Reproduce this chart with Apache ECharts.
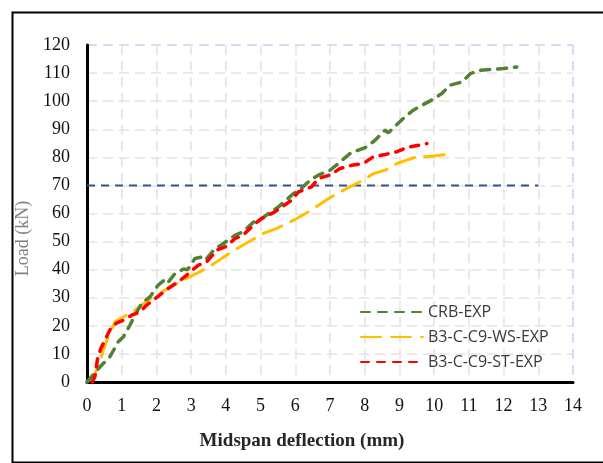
<!DOCTYPE html>
<html>
<head>
<meta charset="utf-8">
<script src="https://cdn.jsdelivr.net/npm/echarts@6/dist/echarts.min.js"></script>
<style>
  html, body { margin: 0; padding: 0; background: #fff; }
  #chart { width: 603px; height: 463px; }
</style>
</head>
<body>
<div id="chart"></div>
<script>
// load-deflection curves, [deflection mm, load kN]
const crbExp = [
  [0, 0], [0.42, 6], [0.66, 9], [0.9, 14.3], [1.05, 16.1], [1.24, 20.3], [1.38, 23.8],
  [1.58, 28], [1.82, 30.4], [2.05, 34.5], [2.2, 36], [2.3, 34.9], [2.54, 38.7], [2.78, 40.2],
  [2.9, 40], [3.11, 44], [3.35, 44.6], [3.42, 43.6], [3.69, 47.5], [3.93, 49.3], [4.27, 52.3],
  [4.5, 53.5], [4.8, 57], [5.03, 58.2], [5.37, 61.2], [5.5, 62.2], [5.95, 67.1], [6.14, 68.5],
  [6.43, 71.9], [6.67, 73.7], [7.0, 75.4], [7.24, 77.8], [7.58, 81.4], [7.82, 82.6], [8.06, 83.7],
  [8.3, 86.1], [8.59, 89.7], [8.68, 88.7], [8.83, 90.6], [9.16, 94.4], [9.4, 96.8], [9.6, 98.2],
  [9.93, 100.4], [10.22, 102.7], [10.46, 105.7], [10.8, 106.8], [11.04, 109.8], [11.33, 111],
  [11.66, 111.3], [12.0, 111.6], [12.38, 112.2]
];
const wsExp = [
  [0, 0], [0.23, 3], [0.37, 6.7], [0.47, 11.4], [0.61, 16], [0.81, 21.5], [1.1, 23.5],
  [1.38, 25.6], [1.77, 29.2], [2.1, 31.5], [2.39, 33.9], [2.68, 35.7], [3.26, 39.3],
  [3.59, 41.6], [4.17, 46.4], [4.5, 48.8], [5.08, 52.9], [5.47, 54.7], [6.04, 58.2],
  [6.38, 60.6], [6.96, 65.3], [7.29, 67.7], [7.96, 71.9], [8.25, 74.2], [8.6, 75.5],
  [8.93, 77.8], [9.21, 79], [9.45, 80], [9.93, 80.4], [10.32, 81]
];
const stExp = [
  [0.15, 0], [0.23, 2], [0.3, 8], [0.4, 12], [0.52, 15], [0.61, 17.3], [0.7, 19.5],
  [0.85, 21], [1.05, 22], [1.29, 23.8], [1.53, 25], [1.72, 27.4], [2.1, 31], [2.34, 33.3],
  [2.63, 35.7], [2.82, 37.5], [3.0, 39.5], [3.21, 41.6], [3.45, 42.8], [3.74, 47],
  [3.98, 48.1], [4.27, 51.1], [4.5, 52.3], [4.84, 56.4], [5.03, 58.2], [5.4, 60.5],
  [5.9, 64.8], [6.09, 67.7], [6.47, 69.5], [6.67, 72.5], [7.0, 73.7], [7.29, 76],
  [7.63, 77.2], [7.96, 77.8], [8.25, 80.2], [8.59, 81], [8.93, 82], [9.21, 83.5],
  [9.55, 84.3], [9.79, 84.9]
];
// horizontal reference at 70 kN
const refLine = [[0, 70], [13, 70]];
const seriesNames = ["CRB-EXP", "B3-C-C9-WS-EXP", "B3-C-C9-ST-EXP"];

const serif = "'Liberation Serif', 'DejaVu Serif', serif";
const gridColor = "#e3e3e3";
const edgeColor = "#bdd7ee";

// last split line (the frame edge) is light blue
const xSplitColors = Array(14).fill(gridColor).concat([edgeColor]);
const ySplitColors = Array(12).fill(gridColor).concat([edgeColor]);

const chart = echarts.init(document.getElementById("chart"));
chart.setOption({
  backgroundColor: "#fff",
  animation: false,
  graphic: [
    {
      type: "rect",
      left: 10, top: 10,
      shape: { width: 600, height: 450 },
      style: { fill: "none", stroke: "#000", lineWidth: 2 },
      z: -1
    }
  ],
  grid: { left: 87, right: 30, top: 45, bottom: 81 },
  legend: {
    data: seriesNames,
    orient: "vertical",
    left: 355,
    top: 299,
    itemWidth: 62,
    itemHeight: 6,
    itemGap: 9,
    itemStyle: { opacity: 0 },
    textStyle: { fontFamily: "'Open Sans', sans-serif", fontSize: 16, color: "#3a3a3a" }
  },
  xAxis: {
    type: "value",
    min: 0, max: 14, interval: 1,
    name: "Midspan deflection (mm)",
    nameLocation: "middle",
    nameGap: 50,
    nameTextStyle: { fontFamily: serif, fontSize: 19, fontWeight: "bold", color: "#262626", padding: [0, 56, 0, 0] },
    axisLine: { lineStyle: { color: "#000", width: 3 } },
    axisTick: { show: false },
    axisLabel: { fontFamily: serif, fontSize: 18, color: "#111", margin: 15 },
    splitLine: { show: true, lineStyle: { color: xSplitColors, width: 1.5, type: [10, 6] } }
  },
  yAxis: {
    type: "value",
    min: 0, max: 120, interval: 10,
    name: "Load (kN)",
    nameLocation: "middle",
    nameGap: 46,
    nameRotate: 90,
    nameTextStyle: { fontFamily: serif, fontSize: 18, color: "#808080", padding: [0, 50, 0, 0] },
    axisLine: { lineStyle: { color: "#000", width: 3 } },
    axisTick: { show: false },
    axisLabel: { fontFamily: serif, fontSize: 18, color: "#111", margin: 17 },
    splitLine: { show: true, lineStyle: { color: ySplitColors, width: 1.5, type: [10, 6] } }
  },
  series: [
    {
      name: "70 kN",
      type: "line",
      data: refLine,
      symbol: "none",
      silent: true,
      lineStyle: { color: "#2f5597", width: 2, type: [8, 6] },
      z: 1
    },
    {
      name: seriesNames[0],
      type: "line",
      data: crbExp,
      symbol: "none",
      color: "#548235",
      lineStyle: { color: "#548235", width: 3.5, type: [9, 8], cap: "round" },
      z: 3
    },
    {
      name: seriesNames[1],
      type: "line",
      data: wsExp,
      symbol: "none",
      color: "#ffc000",
      lineStyle: { color: "#ffc000", width: 3, type: [20, 10], cap: "round" },
      z: 2
    },
    {
      name: seriesNames[2],
      type: "line",
      data: stExp,
      symbol: "none",
      color: "#ff0000",
      lineStyle: { color: "#ff0000", width: 3.5, type: [8, 8], cap: "round" },
      z: 4
    }
  ]
});
</script>
</body>
</html>
